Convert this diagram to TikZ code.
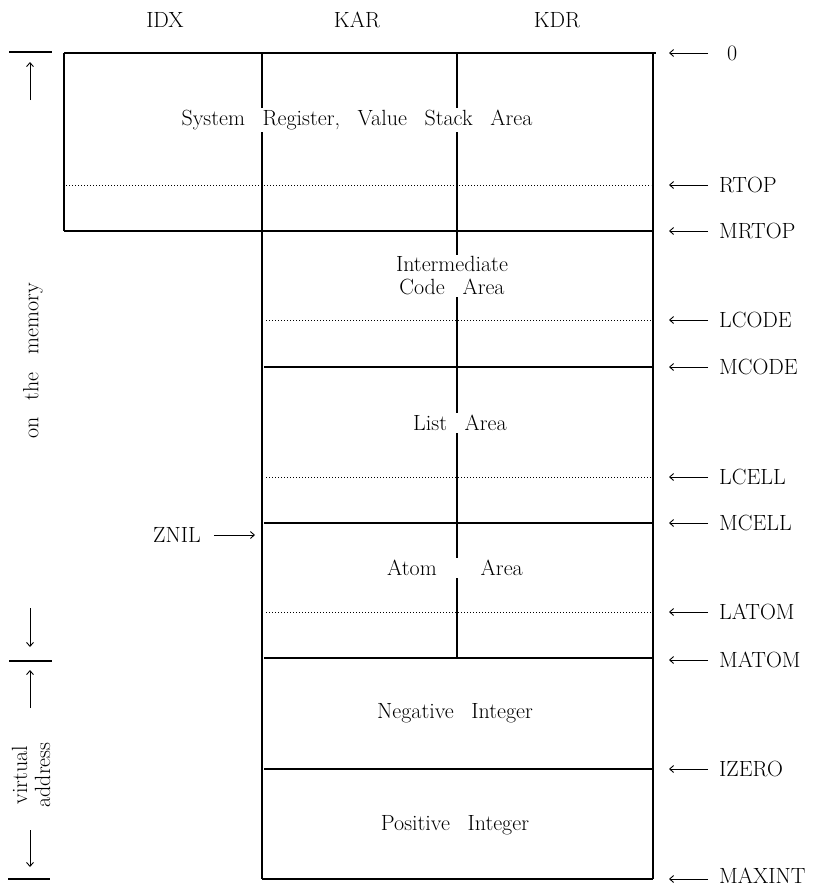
\documentclass[tikz,border=0pt]{standalone}
\usepackage{fontspec}
\usetikzlibrary{arrows.meta}
\newcommand{\wg}{\hspace{0.8em}}
\begin{document}
\begin{tikzpicture}[x=1pt,y=-1pt,
  every node/.style={font=\fontsize{22}{23}\selectfont, inner sep=1pt},
  mainline/.style={line width=1.4pt},
  dotline/.style={line width=0.9pt, dash pattern=on 1.2pt off 1.8pt},
  ptr/.style={line width=0.9pt, -{Straight Barb[length=4pt,width=7pt]}},
  lbl/.style={anchor=west},
  areatext/.style={fill=white, align=center, inner sep=2pt}]
\useasboundingbox (0,0) rectangle (815,887);

% headers
\node (idx) at (165,20) {IDX};
\node (kar) at (357,20) {KAR};
\node (kdr) at (557,20) {KDR};

% frame lines
\draw[mainline] (64,53) -- (656,53);
\draw[mainline] (64,53) -- (64,231);
\draw[mainline] (64,231) -- (653,231);
\draw[mainline] (653,53) -- (653,879);
\draw[mainline] (262,53) -- (262,879);
\draw[mainline] (457,53) -- (457,658);
\draw[mainline] (264,367) -- (653,367);
\draw[mainline] (264,523) -- (653,523);
\draw[mainline] (264,658) -- (653,658);
\draw[mainline] (264,769) -- (653,769);
\draw[mainline] (262,879) -- (653,879);
% dotted lines
\draw[dotline] (66,185) -- (651,185);
\draw[dotline] (266,320) -- (651,320);
\draw[dotline] (266,477) -- (651,477);
\draw[dotline] (266,612) -- (651,612);

% area texts
\node[areatext] (sys) at (357,120) {System\wg Register,\wg Value\wg Stack\wg Area};
\node[areatext] (icode) at (452,276) {Intermediate\\Code\wg Area};
\node[areatext] (list) at (460,423) {List\wg Area};
\node[areatext] (atom) at (455,568) {Atom\hspace{2em}Area};
\node[areatext] (neg) at (455,713) {Negative\wg Integer};
\node[areatext] (pos) at (455,825) {Positive\wg Integer};

% right labels
\foreach \nm/\yy/\txt/\xx/\up in {l0/53/0/726/0, lrtop/185/RTOP/718/0, lmrtop/231/MRTOP/718/0,
  llcode/320/LCODE/718/0, lmcode/367/MCODE/718/0, llcell/477/LCELL/718/0,
  lmcell/523/MCELL/718/0, llatom/612/LATOM/718/0, lmatom/660/MATOM/718/0,
  lizero/769/IZERO/718/0, lmaxint/879/MAXINT/718/3}{
  \coordinate (e\nm) at (669,\yy);
  \coordinate (s\nm) at (708,\yy);
  \node[lbl, yshift=\up pt] (\nm) at (\xx,\yy) {\txt};
  \draw[ptr] (s\nm) -- (e\nm);
}

% ZNIL
\node (znil) at (177,535) {ZNIL};
\coordinate (zend) at (255,535);
\draw[ptr, shorten <=12pt] (znil.east) -- (zend);

% left indicators
\draw[mainline] (9,52) -- (52,52);
\coordinate (m1a) at (30,100);
\coordinate (m1b) at (30,62);
\draw[ptr] (m1a) -- (m1b);
\node[rotate=90] (mem) at (33,361) {on\wg the\wg memory};
\coordinate (m2a) at (30,608);
\coordinate (m2b) at (30,647);
\draw[ptr] (m2a) -- (m2b);
\draw[mainline] (9,661) -- (52,661);
\coordinate (v1a) at (30,708);
\coordinate (v1b) at (30,670);
\draw[ptr] (v1a) -- (v1b);
\node[rotate=90, align=center] (virt) at (31,775) {virtual\\address};
\coordinate (v2a) at (30,830);
\coordinate (v2b) at (30,867);
\draw[ptr] (v2a) -- (v2b);
\draw[mainline] (8,879) -- (50,879);
\end{tikzpicture}
\end{document}
